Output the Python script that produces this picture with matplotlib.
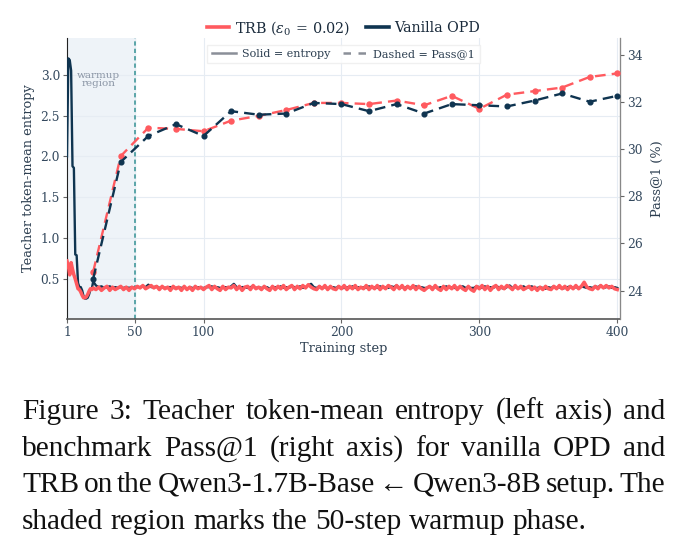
import matplotlib
matplotlib.use('Agg')
import matplotlib.pyplot as plt
from matplotlib.lines import Line2D

# entropy curves: every step in warmup start, then every 2 steps
ent_steps = list(range(1, 21)) + list(range(22, 401, 2))

vanilla_ent = [2.00, 3.20, 3.18, 3.05, 1.88, 1.86, 0.80, 0.79, 0.45, 0.40,
               0.40, 0.36, 0.29, 0.26, 0.26, 0.27, 0.31, 0.37, 0.38, 0.47,
               0.42, 0.40, 0.41, 0.39, 0.40, 0.41, 0.39, 0.40, 0.39, 0.40,
               0.39, 0.40, 0.39, 0.40, 0.39, 0.40, 0.40, 0.41, 0.40, 0.43,
               0.40, 0.40, 0.41, 0.39, 0.40, 0.39, 0.40, 0.40, 0.39, 0.39,
               0.40, 0.39, 0.40, 0.38, 0.40, 0.39, 0.39, 0.40, 0.39, 0.39,
               0.40, 0.40, 0.41, 0.39, 0.40, 0.39, 0.39, 0.40, 0.39, 0.41,
               0.44, 0.40, 0.39, 0.40, 0.40, 0.39, 0.40, 0.41, 0.39, 0.40,
               0.39, 0.40, 0.40, 0.38, 0.40, 0.40, 0.39, 0.41, 0.39, 0.40,
               0.39, 0.41, 0.40, 0.39, 0.41, 0.39, 0.40, 0.42, 0.44, 0.40,
               0.39, 0.41, 0.39, 0.40, 0.39, 0.39, 0.40, 0.39, 0.41, 0.39,
               0.39, 0.40, 0.39, 0.41, 0.39, 0.40, 0.39, 0.40, 0.39, 0.41,
               0.39, 0.40, 0.39, 0.41, 0.39, 0.40, 0.39, 0.41, 0.40, 0.42,
               0.39, 0.40, 0.39, 0.41, 0.39, 0.40, 0.41, 0.39, 0.40, 0.39,
               0.39, 0.41, 0.39, 0.40, 0.39, 0.40, 0.39, 0.41, 0.39, 0.40,
               0.39, 0.39, 0.40, 0.41, 0.39, 0.40, 0.39, 0.39, 0.41, 0.40,
               0.39, 0.41, 0.39, 0.40, 0.39, 0.41, 0.40, 0.39, 0.38, 0.40,
               0.42, 0.39, 0.40, 0.39, 0.39, 0.41, 0.39, 0.40, 0.41, 0.39,
               0.39, 0.40, 0.39, 0.38, 0.40, 0.39, 0.41, 0.39, 0.40, 0.38,
               0.39, 0.40, 0.41, 0.39, 0.40, 0.39, 0.41, 0.40, 0.39, 0.40,
               0.39, 0.41, 0.40, 0.42, 0.39, 0.40, 0.41, 0.39, 0.40, 0.39]

trb_ent = [0.72, 0.66, 0.55, 0.70, 0.62, 0.55, 0.50, 0.44, 0.38, 0.37,
           0.34, 0.30, 0.27, 0.27, 0.28, 0.31, 0.35, 0.38, 0.37, 0.39,
           0.37, 0.40, 0.36, 0.39, 0.41, 0.36, 0.40, 0.37, 0.39, 0.41,
           0.37, 0.40, 0.36, 0.40, 0.38, 0.41, 0.39, 0.42, 0.38, 0.40,
           0.42, 0.39, 0.41, 0.37, 0.41, 0.38, 0.40, 0.36, 0.41, 0.38,
           0.40, 0.36, 0.41, 0.37, 0.40, 0.36, 0.41, 0.38, 0.40, 0.37,
           0.40, 0.42, 0.37, 0.41, 0.38, 0.36, 0.41, 0.37, 0.40, 0.39,
           0.42, 0.37, 0.41, 0.36, 0.40, 0.41, 0.37, 0.42, 0.38, 0.40,
           0.37, 0.41, 0.38, 0.36, 0.41, 0.37, 0.41, 0.38, 0.42, 0.37,
           0.40, 0.42, 0.37, 0.41, 0.38, 0.42, 0.39, 0.43, 0.40, 0.38,
           0.37, 0.41, 0.38, 0.42, 0.37, 0.41, 0.38, 0.37, 0.41, 0.38,
           0.42, 0.37, 0.41, 0.38, 0.42, 0.37, 0.40, 0.38, 0.42, 0.37,
           0.41, 0.38, 0.42, 0.37, 0.41, 0.38, 0.42, 0.40, 0.37, 0.42,
           0.38, 0.42, 0.37, 0.41, 0.38, 0.42, 0.37, 0.41, 0.38, 0.36,
           0.39, 0.41, 0.37, 0.42, 0.38, 0.36, 0.41, 0.37, 0.41, 0.38,
           0.42, 0.37, 0.41, 0.38, 0.36, 0.41, 0.37, 0.35, 0.41, 0.38,
           0.42, 0.37, 0.41, 0.36, 0.40, 0.42, 0.37, 0.41, 0.38, 0.42,
           0.40, 0.37, 0.42, 0.38, 0.41, 0.37, 0.39, 0.41, 0.37, 0.40,
           0.36, 0.40, 0.37, 0.41, 0.38, 0.37, 0.41, 0.38, 0.42, 0.38,
           0.41, 0.37, 0.41, 0.38, 0.42, 0.38, 0.41, 0.46, 0.40, 0.38,
           0.37, 0.41, 0.38, 0.42, 0.39, 0.42, 0.39, 0.41, 0.38, 0.37]

# Pass@1 evaluated every 20 steps
eval_steps = list(range(20, 401, 20))
trb_pass = [24.8, 29.7, 30.9, 30.85, 30.75, 31.2, 31.4, 31.65, 31.95, 31.95,
            31.9, 32.05, 31.85, 32.25, 31.7, 32.3, 32.45, 32.6, 33.05, 33.2]
vanilla_pass = [24.5, 29.45, 30.55, 31.05, 30.55, 31.6, 31.45, 31.5, 31.95, 31.9,
                31.6, 31.9, 31.5, 31.9, 31.85, 31.8, 32.05, 32.35, 32.0, 32.25]

warmup_end = 50
x_ticks = [1, 50, 100, 200, 300, 400]

caption_lines = [
    "Figure 3: Teacher token-mean entropy (left axis) and",
    "benchmark Pass@1 (right axis) for vanilla OPD and",
    "TRB on the Qwen3-1.7B-Base \u2190 Qwen3-8B setup. The",
    "shaded region marks the 50-step warmup phase.",
]

RED = '#ff5a5f'
NAVY = '#0f3450'
TICKC = '#34495e'
GRIDC = '#e6ecf3'

plt.rcParams['font.family'] = 'DejaVu Serif'
plt.rcParams['mathtext.fontset'] = 'dejavuserif'

fig = plt.figure(figsize=(6.87, 5.48), dpi=100)
ax = fig.add_axes([0.0975, 0.4179, 0.805, 0.5128])
ax2 = ax.twinx()

ax.axvspan(1, warmup_end, color='#eef3f8', zorder=0)
ax.axvline(warmup_end, color='#5aa5a8', lw=1.4, ls=(0, (2.2, 1.6)), zorder=1)
ax.text(24, 2.94, 'warmup\nregion', ha='center', va='center', fontsize=7.5,
        color='#8a95a5', linespacing=0.95)

ax.plot(ent_steps, vanilla_ent, color=NAVY, lw=1.7, zorder=3)
ax.plot(ent_steps, trb_ent, color=RED, lw=2.5, zorder=4)

ax2.plot(eval_steps, trb_pass, color=RED, lw=1.7, ls=(0, (4.5, 2.6)),
         marker='o', ms=3.6, zorder=3)
ax2.plot(eval_steps, vanilla_pass, color=NAVY, lw=1.7, ls=(0, (4.5, 2.6)),
         marker='o', ms=3.4, zorder=4)

ax.set_xlim(1, 402)
ax.set_ylim(0.01, 3.45)
ax2.set_ylim(22.8, 34.7)
ax.set_xticks(x_ticks)
ax.set_yticks([0.5, 1.0, 1.5, 2.0, 2.5, 3.0])
ax2.set_yticks([24, 26, 28, 30, 32, 34])

ax.grid(True, color=GRIDC, lw=0.8, zorder=0)
ax.set_axisbelow(True)

for a in (ax, ax2):
    a.tick_params(labelsize=8.8, labelcolor=TICKC, length=3, width=0.8,
                  color='#666666', pad=2)
    a.spines['top'].set_visible(False)
ax.spines['left'].set_color('#222222')
ax.spines['bottom'].set_color('#555555')
ax.spines['bottom'].set_linewidth(1.2)
ax2.spines['right'].set_color('#888888')
ax2.spines['left'].set_visible(False)
ax2.spines['bottom'].set_visible(False)

ax.set_xlabel('Training step', fontsize=9.3, color='#2c3e50', labelpad=2)
ax.set_ylabel('Teacher token-mean entropy', fontsize=9.3, color='#2c3e50', labelpad=4)
ax2.set_ylabel('Pass@1 (%)', fontsize=9.3, color='#2c3e50', labelpad=6)

top_handles = [Line2D([], [], color=RED, lw=2.6), Line2D([], [], color=NAVY, lw=2.6)]
fig.legend(top_handles, [r'TRB ($\epsilon_0\,{=}\,0.02$)', 'Vanilla OPD'],
           loc='center', bbox_to_anchor=(0.5, 0.949), ncol=2, frameon=False,
           fontsize=10.3, handlelength=1.6, columnspacing=1.1, handletextpad=0.4,
           labelcolor='#1a2b3c')

style_handles = [Line2D([], [], color='#8a8f98', lw=1.8),
                 Line2D([], [], color='#8a8f98', lw=1.8, ls=(0, (3, 3)))]
leg2 = ax2.legend(style_handles, ['Solid = entropy', 'Dashed = Pass@1'],
                  loc='center', bbox_to_anchor=(0.5, 0.9015),
                  bbox_transform=fig.transFigure, ncol=2, fontsize=8,
                  handlelength=2.2, columnspacing=1.2, handletextpad=0.5,
                  framealpha=0.85, edgecolor='#eeeeee', fancybox=False,
                  labelcolor='#2c3e50', borderpad=0.4)
leg2.set_zorder(10)

# caption, justified line by line
W, H = 687, 548
cap_fs = 21.2
x_left, x_right = 22, 665
baselines = [419, 456, 492, 529]
fig.canvas.draw()
r = fig.canvas.get_renderer()
for i, line in enumerate(caption_lines):
    words = line.split(' ')
    y = 1 - baselines[i] / H
    texts = [fig.text(0, y, w, fontsize=cap_fs, va='baseline', ha='left',
                      family=['Liberation Serif', 'DejaVu Serif'], color='#111111')
             for w in words]
    widths = [t.get_window_extent(r).width for t in texts]
    if i < len(caption_lines) - 1:
        gap = (x_right - x_left - sum(widths)) / (len(words) - 1)
        gap = max(gap, 4)
    else:
        gap = cap_fs * 100 / 72 * 0.25
    x = x_left
    for t, w in zip(texts, widths):
        t.set_x(x / W)
        x += w + gap

fig.savefig('out.png', dpi=100)
